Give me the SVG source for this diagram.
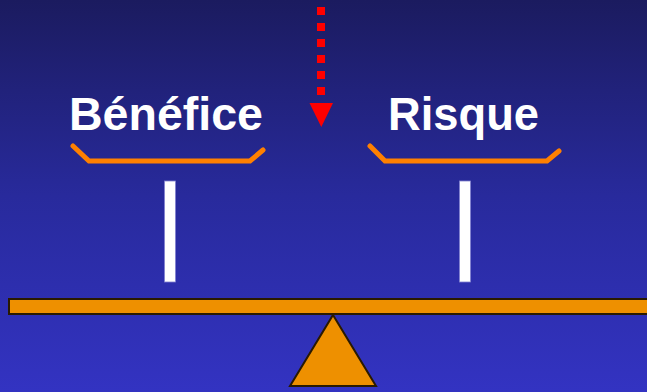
<svg xmlns="http://www.w3.org/2000/svg" width="647" height="392" viewBox="0 0 647 392">
  <defs>
    <linearGradient id="bg" x1="0" y1="0" x2="0" y2="1">
      <stop offset="0" stop-color="#1b1b5f"/>
      <stop offset="0.5" stop-color="#282a9c"/>
      <stop offset="1" stop-color="#3333c2"/>
    </linearGradient>
  </defs>
  <style>
    .label { font-family: "Liberation Sans", Arial, sans-serif; font-weight: bold; font-size: 47px; fill: #ffffff; }
    .brace { fill: none; stroke: #ff8000; stroke-width: 5; stroke-linecap: round; stroke-linejoin: miter; }
    .post { fill: #ffffff; stroke: #8080d0; stroke-width: 0.8; }
    .wood { fill: #ee9000; stroke: #2a1a00; stroke-width: 2; }
    .drop { fill: #ff0000; }
  </style>

  <rect x="0" y="0" width="647" height="392" fill="url(#bg)"/>

  <!-- weight arrow falling onto the scale -->
  <g id="arrow" class="drop">
    <rect x="317" y="7" width="8" height="8"/>
    <rect x="317" y="23" width="8" height="8"/>
    <rect x="317" y="39" width="8" height="8"/>
    <rect x="317" y="55" width="8" height="8"/>
    <rect x="317" y="71" width="8" height="8"/>
    <rect x="317" y="87" width="8" height="8"/>
    <polygon points="309.5,103 333,103 321.3,127"/>
  </g>

  <!-- left pan -->
  <g id="benefice">
    <text class="label" x="69" y="130" textLength="194" lengthAdjust="spacingAndGlyphs">Bénéfice</text>
    <polyline class="brace" points="73,146 89,161 250,161 263,150"/>
    <rect class="post" x="164.5" y="181" width="11" height="101"/>
  </g>

  <!-- right pan -->
  <g id="risque">
    <text class="label" x="388" y="130" textLength="151" lengthAdjust="spacingAndGlyphs">Risque</text>
    <polyline class="brace" points="370,146 385,161 547,161 559,151"/>
    <rect class="post" x="459.5" y="181" width="11" height="101"/>
  </g>

  <!-- beam and fulcrum -->
  <g id="balance">
    <rect class="wood" x="9" y="299" width="650" height="15"/>
    <polygon class="wood" points="333,315 376,386 290,386"/>
  </g>
</svg>
